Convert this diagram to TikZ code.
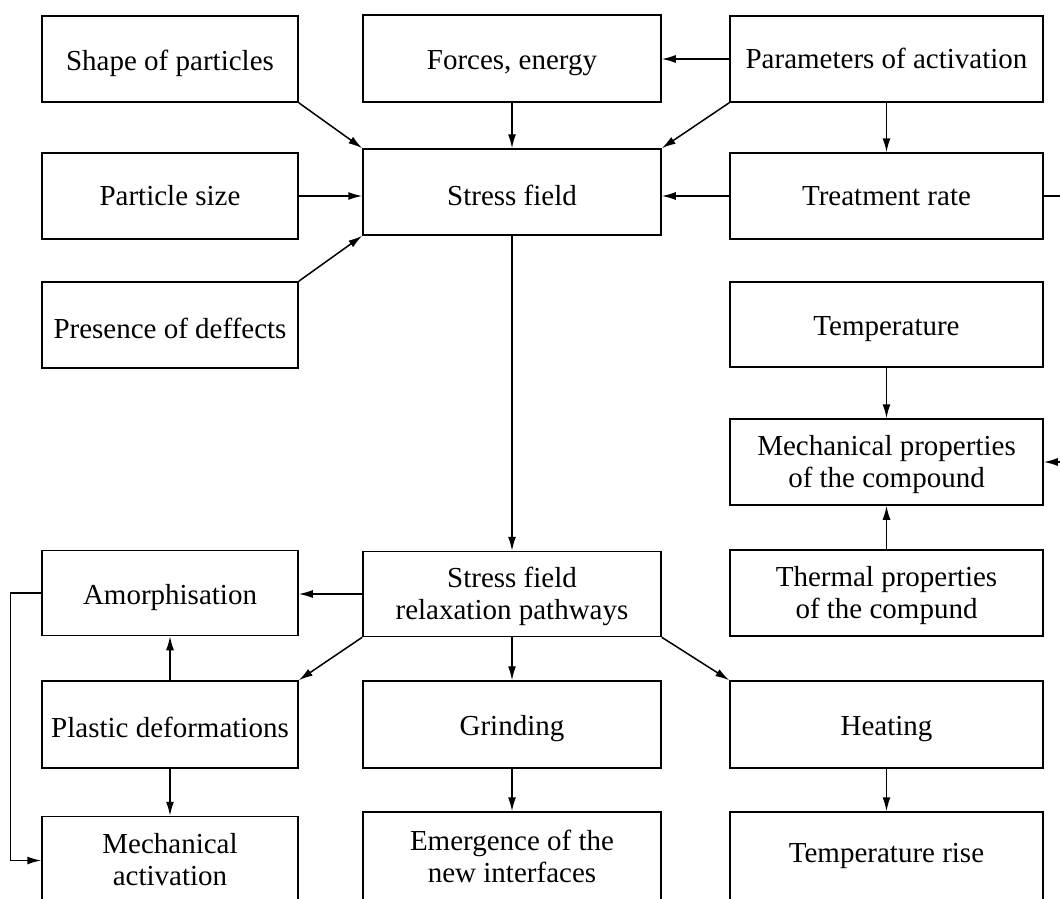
\documentclass[tikz,border=0pt]{standalone}
\usepackage{fontspec}
\setmainfont{Liberation Serif}
\usetikzlibrary{arrows.meta}
\newcommand{\mystrut}{\rule[-3pt]{0pt}{32pt}}
\newcommand{\mystrutb}{\rule[-7pt]{0pt}{32pt}}
\newcommand{\mystrutc}{\rule[-11pt]{0pt}{32pt}}
\begin{document}
\begin{tikzpicture}[x=1pt,y=-1pt,
  box/.style={draw, line width=1.5pt, align=center, inner sep=0pt,
    font=\fontsize{29}{32}\selectfont},
  c1/.style={minimum width=256pt},
  c2/.style={minimum width=298pt},
  c3/.style={minimum width=313pt},
  arr/.style={line width=1.5pt, -{Latex[length=14pt,width=8pt]}}]
\useasboundingbox (0,0) rectangle (1060,899);
\clip (0,0) rectangle (1060,899);
% column 1
\node[box,c1,minimum height=86pt] (shape) at (170,59) {Shape of particles\mystrut};
\node[box,c1,minimum height=86pt] (psize) at (170,196) {Particle size\mystrutb};
\node[box,c1,minimum height=86pt] (defects) at (170,325) {Presence of deffects\mystrut};
\node[box,c1,minimum height=85pt] (amorph) at (170,593) {Amorphisation\mystrut};
\node[box,c1,minimum height=87pt] (plastic) at (170,724.5) {Plastic deformations\mystrut};
\node[box,c1,minimum height=88pt] (mechact) at (170,860.5) {Mechanical\mystrutb\\activation\mystrutb};
% column 2
\node[box,c2,minimum height=87pt] (forces) at (512,58.5) {Forces, energy\mystrut};
\node[box,c2,minimum height=86pt] (stress) at (512,192) {Stress field\mystrut};
\node[box,c2,minimum height=85pt] (relax) at (512,594) {Stress field\mystrutb\\relaxation pathways\mystrutb};
\node[box,c2,minimum height=87pt] (grind) at (512,724.5) {Grinding\mystrut};
\node[box,c2,minimum height=90pt] (emerg) at (512,857) {Emergence of the\mystrutb\\new interfaces\mystrutb};
% column 3
\node[box,c3,minimum height=86pt] (params) at (886.5,59) {Parameters of activation\mystrutb};
\node[box,c3,minimum height=86pt] (treat) at (886.5,196) {Treatment rate\mystrutb};
\node[box,c3,minimum height=85pt] (temp) at (886.5,324.5) {Temperature\mystrut};
\node[box,c3,minimum height=86pt] (mechprop) at (886.5,462) {Mechanical properties\mystrutb\\of the compound\mystrutb};
\node[box,c3,minimum height=86pt] (thermal) at (886.5,593) {Thermal properties\mystrutb\\of the compund\mystrutb};
\node[box,c3,minimum height=87pt] (heat) at (886.5,724.5) {Heating\mystrut};
\node[box,c3,minimum height=90pt] (trise) at (886.5,857) {Temperature rise\mystrutc};
% connectors
\draw[arr] (shape.south east) -- (stress.north west);
\draw[arr] (psize.east) -- (psize.east -| stress.west);
\draw[arr] (defects.north east) -- (stress.south west);
\draw[arr] (forces.south) -- (stress.north);
\draw[arr] (params.west) -- (params.west -| forces.east);
\draw[arr] (params.south west) -- (stress.north east);
\draw[arr] (params.south) -- (treat.north);
\draw[arr] (treat.west) -- (treat.west -| stress.east);
\draw[arr] (treat.east) -- ++(40,0) |- (mechprop.east);
\draw[arr] (temp.south) -- (mechprop.north);
\draw[arr] (thermal.north) -- (mechprop.south);
\draw[arr] (stress.south) -- (relax.north);
\draw[arr] (relax.west) -- (relax.west -| amorph.east);
\draw[arr] (relax.south west) -- (plastic.north east);
\draw[arr] (relax.south) -- (grind.north);
\draw[arr] (relax.south east) -- (heat.north west);
\draw[arr] (plastic.north) -- (amorph.south);
\draw[arr] (plastic.south) -- (mechact.north);
\draw[arr] (amorph.west) -- ++(-31,0) |- (mechact.west);
\draw[arr] (grind.south) -- (emerg.north);
\draw[arr] (heat.south) -- (trise.north);
\end{tikzpicture}
\end{document}
